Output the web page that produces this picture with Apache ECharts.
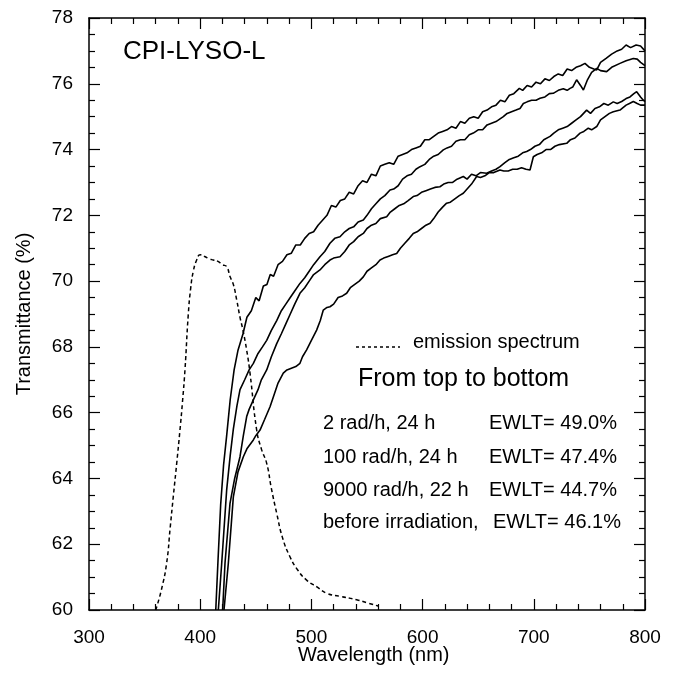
<!DOCTYPE html>
<html>
<head>
<meta charset="utf-8">
<script src="https://cdn.jsdelivr.net/npm/echarts@6/dist/echarts.min.js"></script>
<style>html,body{margin:0;padding:0;background:#fff}#c{width:675px;height:677px}</style>
</head>
<body>
<div id="c"></div>
<script>
// ---- data ----
const xTicks = [300, 400, 500, 600, 700, 800];
const yTicks = [60, 62, 64, 66, 68, 70, 72, 74, 76, 78];

const wlA = [414,416,418.4,421,423.8,427,430.5,434,438.5,442,446,450,453,456.8,460,463,466,470,474,478,482,486,490,494,498,502,506,510,514,518,522,526,530,534,538,542,546,550,554,558,562,566,570,574,578,582,586,590,594,598,602,606,610,614,618,622,626,630,634,638,642,646,650,654,658,662,666,670,674,678,682,687,690,694,698,702,706,710,714,718,722,726,730,734,738,742,746,750,754,756.6,760,765,770,775,779,783,787,792,796,800];
const tA  = [60.0,61.5,63.2,64.4,65.3,66.4,67.3,67.9,68.4,68.9,69.1,69.5,69.4,69.85,69.9,70.2,70.15,70.5,70.6,70.8,70.85,71.1,71.1,71.3,71.45,71.5,71.7,71.85,72.0,72.3,72.25,72.45,72.5,72.7,72.65,72.9,73.05,73.0,73.25,73.2,73.5,73.55,73.6,73.55,73.8,73.85,73.9,74.0,74.05,74.1,74.3,74.3,74.4,74.5,74.55,74.6,74.7,74.65,74.85,74.8,74.95,75.0,74.95,75.15,75.2,75.3,75.35,75.5,75.45,75.65,75.7,75.86,75.8,75.95,75.9,76.05,76.0,76.15,76.1,76.22,76.3,76.25,76.45,76.4,76.5,76.55,76.62,76.5,76.45,76.42,76.65,76.77,76.9,77.0,77.05,77.18,77.1,77.18,77.15,77.0];

const wlB = [416.3,419.3,423.8,427,429.8,433,435.8,440,444,447.8,452,456,459.8,464,468.8,473,477,481,485,489.7,494,498,502,507.7,512,516.7,521,525.7,530,534,538,542,546.7,550,554,558,562,566,570.7,574,578,582,586,590,594,597.7,602,606,610,614,618.6,622,626,630,634,638,642,645.6,650,654,658,662,666,672.6,676,680,684,687.6,690.6,694,698,702,705.6,710,714,717.5,722,726.5,730,732.6,735,738.5,742,744.6,748,752,756.6,760,765.5,770,777.5,783,789.5,793,796,800];
const tB  = [60,61.4,63.65,64.7,65.5,66.2,66.7,67.0,67.3,67.5,67.8,68.0,68.2,68.5,68.8,69.1,69.3,69.5,69.7,69.93,70.1,70.3,70.5,70.74,70.9,71.15,71.3,71.35,71.5,71.6,71.65,71.8,71.86,72.0,72.2,72.35,72.5,72.6,72.77,72.8,72.9,73.1,73.2,73.25,73.4,73.48,73.55,73.7,73.8,73.85,73.99,74.05,74.1,74.25,74.3,74.3,74.45,74.5,74.6,74.6,74.75,74.8,74.85,75.0,75.1,75.15,75.2,75.25,75.4,75.45,75.5,75.5,75.56,75.6,75.7,75.71,75.8,75.85,75.8,75.86,75.9,76.12,75.95,75.81,76.1,76.35,76.47,76.4,76.37,76.5,76.62,76.7,76.77,76.75,76.65,76.55];

const wlC = [420.2,422.3,426.8,431,435.8,438.8,441.8,444,447.8,452,455,459.8,464,468.8,473,477,481,485,489.7,494,498,502,507.7,512,516.7,520,525.7,530,534,538,542,546.7,550,554,558,562,567.7,571,575,579,583,587,591.6,595,599,603,607,611,615.6,619,623,627,631,636.6,640,644,648,652,657.6,662,666,669.6,674,678,682,686,690,693.6,697,701,705,709,714.6,718,722,726,730,734,738,742,747.5,751,755,759,763,767,771.5,775,779,783,786.5,790,792.5,796,798.5,800];
const tC  = [60,61.42,63.24,64.0,64.66,65.3,65.88,66.1,66.39,66.7,67.0,67.3,67.7,68.1,68.4,68.7,69.0,69.3,69.63,69.8,70.0,70.2,70.34,70.5,70.64,70.7,70.74,70.9,71.1,71.2,71.35,71.45,71.6,71.7,71.75,71.9,71.96,72.1,72.2,72.3,72.35,72.45,72.57,72.6,72.7,72.75,72.8,72.85,72.87,72.95,73.0,73.0,73.1,73.18,73.1,73.25,73.2,73.3,73.28,73.35,73.4,73.48,73.6,73.7,73.75,73.8,73.9,73.94,74.0,74.1,74.15,74.3,74.4,74.5,74.6,74.65,74.7,74.8,74.9,75.0,75.2,75.1,75.25,75.3,75.4,75.35,75.45,75.4,75.46,75.55,75.6,75.7,75.76,75.6,75.5,75.46];

const wlD = [421.4,425.3,429.8,434,438.8,442,447.8,450,453.8,458,462.8,466,470,474.7,478,482,486,489.7,492,495.7,500,504.7,508,510.7,514,516.7,520,524,528,531.7,535,539,543,546.7,550,554,558,561.7,565,569,573,576.7,580,584,588,591.6,595,599,603,606.7,610,614,618,621.6,625,629,633,636.6,640,644,648.6,652,656,660,664,669.6,673,677,681,685,689,693,696.6,699.6,703,707,711,715,719,723,729.6,733,737,741.6,745,749,752,756.6,760,764,768,771.5,777.5,783,786,789.5,793,796,800];
const tD  = [60,61.42,63.44,64.2,64.66,64.9,65.17,65.3,65.47,65.8,66.18,66.5,66.9,67.2,67.3,67.35,67.4,67.5,67.7,67.91,68.2,68.51,68.8,69.12,69.2,69.22,69.3,69.5,69.55,69.63,69.8,69.9,70.0,70.13,70.3,70.4,70.5,70.64,70.7,70.75,70.8,70.84,71.0,71.15,71.3,71.45,71.5,71.6,71.7,71.76,71.9,72.1,72.25,72.37,72.4,72.5,72.6,72.67,72.8,72.95,73.18,73.15,73.2,73.3,73.3,73.38,73.35,73.35,73.4,73.4,73.45,73.4,73.38,73.78,73.85,73.9,74.0,74.0,74.1,74.15,74.19,74.3,74.35,74.5,74.55,74.65,74.6,74.7,74.9,75.0,75.1,75.15,75.2,75.35,75.4,75.46,75.4,75.35,75.35];

const wlE = [360,365,369.8,373,375.8,379,381.8,384,386.3,389.3,391.5,393.8,396.8,400,404,408,411.8,416,420,423.8,426.8,429.8,432.8,435.8,438.5,441.8,444.8,450.8,455,459.8,464,468.8,474,480.7,488,495.7,505,513.7,525,540.7,550,560];
const tE  = [60.0,60.6,61.42,62.5,63.45,64.5,65.47,66.3,67.3,69.0,69.8,70.3,70.64,70.8,70.75,70.68,70.64,70.6,70.5,70.44,70.14,69.9,69.43,68.9,68.5,67.9,67.2,65.47,64.9,64.46,63.7,62.94,62.2,61.62,61.2,60.91,60.7,60.51,60.42,60.31,60.22,60.12];

const legendRows = ["2 rad/h, 24 h", "100 rad/h, 24 h", "9000 rad/h, 22 h", "before irradiation,"];
const ewlt = ["EWLT= 49.0%", "EWLT= 47.4%", "EWLT= 44.7%", "EWLT= 46.1%"];

// ---- chart ----
const FONT = "Liberation Sans, Arial, Helvetica, sans-serif";
const zip = (xs, ys) => xs.map((x, i) => [x, ys[i]]);
const chart = echarts.init(document.getElementById('c'), null, {renderer: 'canvas'});

const axisCommon = {
  axisLine: {show: true, onZero: false, lineStyle: {color: '#000', width: 1.5}},
  axisTick: {show: true, inside: true, length: 11, lineStyle: {color: '#000', width: 1.2}},
  minorTick: {show: true, length: 6, lineStyle: {color: '#000', width: 1.2}},
  splitLine: {show: false},
  minorSplitLine: {show: false}
};

const solid = (name, xs, ys) => ({
  type: 'line', name, data: zip(xs, ys), showSymbol: false, symbol: 'none',
  lineStyle: {color: '#000', width: 1.6}, smooth: false, silent: true, animation: false
});

const txt = (s, x, y, size) => ({type: 'text', style: {text: s, x: x, y: y, font: size + 'px ' + FONT, fill: '#000', align: 'left', verticalAlign: 'middle'}});

const graphics = [
  txt('CPI-LYSO-L', 123, 52, 26),
  {type: 'line', shape: {x1: 356, y1: 347, x2: 400, y2: 347}, style: {stroke: '#000', lineWidth: 1.5, lineDash: [3, 3]}},
  txt('emission spectrum', 413, 342, 20),
  txt('From top to bottom', 358, 379, 25),
  txt('Wavelength (nm)', 298, 655, 20),
  {type: 'text', x: 24, y: 314, rotation: Math.PI / 2, style: {text: 'Transmittance (%)', font: '20px ' + FONT, fill: '#000', align: 'center', verticalAlign: 'middle'}}
];
const rowY = [423, 457, 490, 522];
const ewX = [489, 489, 489, 493];
legendRows.forEach((t, i) => {
  graphics.push(txt(t, 323, rowY[i], 20));
  graphics.push(txt(ewlt[i], ewX[i], rowY[i], 20));
});

chart.setOption({
  animation: false,
  backgroundColor: '#fff',
  grid: {left: 89, right: 30, top: 18, bottom: 67, containLabel: false, outerBoundsMode: 'none'},
  xAxis: [
    Object.assign({}, axisCommon, {
      type: 'value', min: xTicks[0], max: xTicks[xTicks.length - 1], interval: 100, position: 'bottom',
      minorTick: Object.assign({}, axisCommon.minorTick, {splitNumber: 5}),
      axisLabel: {color: '#000', fontSize: 19, fontFamily: FONT, margin: 18}
    }),
    Object.assign({}, axisCommon, {
      type: 'value', min: xTicks[0], max: xTicks[xTicks.length - 1], interval: 100, position: 'top',
      minorTick: Object.assign({}, axisCommon.minorTick, {splitNumber: 5}),
      axisLabel: {show: false}
    })
  ],
  yAxis: [
    Object.assign({}, axisCommon, {
      type: 'value', min: yTicks[0], max: yTicks[yTicks.length - 1], interval: 2, position: 'left',
      minorTick: Object.assign({}, axisCommon.minorTick, {splitNumber: 4}),
      axisLabel: {color: '#000', fontSize: 19, fontFamily: FONT, margin: 16}
    }),
    Object.assign({}, axisCommon, {
      type: 'value', min: yTicks[0], max: yTicks[yTicks.length - 1], interval: 2, position: 'right',
      minorTick: Object.assign({}, axisCommon.minorTick, {splitNumber: 4}),
      axisLabel: {show: false}
    })
  ],
  series: [
    solid('2 rad/h, 24 h', wlA, tA),
    solid('100 rad/h, 24 h', wlB, tB),
    solid('9000 rad/h, 22 h', wlC, tC),
    solid('before irradiation', wlD, tD),
    {type: 'line', name: 'emission spectrum', data: zip(wlE, tE), showSymbol: false, symbol: 'none', smooth: true,
     lineStyle: {color: '#000', width: 1.5, type: [4, 3]}, silent: true}
  ],
  graphic: graphics
});
</script>
</body>
</html>
